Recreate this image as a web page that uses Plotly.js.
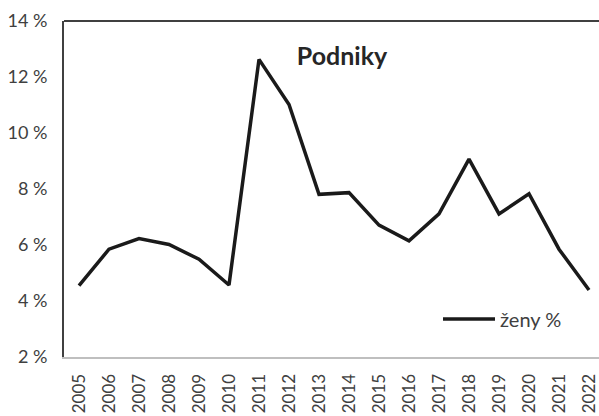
<!DOCTYPE html>
<html>
<head>
<meta charset="utf-8">
<script src="https://cdn.plot.ly/plotly-3.0.1.min.js"></script>
<style>html,body{margin:0;padding:0;background:#fff;overflow:hidden}</style>
</head>
<body>
<div id="chart" style="width:599px;height:416px"></div>
<script>
const years = ['2005','2006','2007','2008','2009','2010','2011','2012','2013','2014','2015','2016','2017','2018','2019','2020','2021','2022'];
const zeny = [4.55, 5.85, 6.23, 6.02, 5.49, 4.57, 12.63, 11.02, 7.81, 7.87, 6.71, 6.15, 7.11, 9.07, 7.11, 7.83, 5.85, 4.39];
const yTickVals = [2, 4, 6, 8, 10, 12, 14];
const yTickText = ['2 %', '4 %', '6 %', '8 %', '10 %', '12 %', '14 %'];
const seriesName = 'ženy %';
const chartTitle = 'Podniky';

const fontFam = 'Lato, "Open Sans", sans-serif';
const data = [{
  x: years, y: zeny, type: 'scatter', mode: 'lines', name: seriesName,
  line: {color: '#1a1a1a', width: 3.5}
}];
const layout = {
  width: 599, height: 416,
  margin: {l: 64, r: 0, t: 21, b: 59, pad: 0},
  paper_bgcolor: '#fff', plot_bgcolor: '#fff',
  font: {family: fontFam, size: 17, color: '#404040'},
  title: {text: '<b>' + chartTitle + '</b>', x: 342/599, y: 1 - 56/416, xref: 'container', yref: 'container',
    xanchor: 'center', yanchor: 'middle', font: {family: fontFam, size: 25, color: '#262626'}},
  showlegend: true,
  legend: {x: (438-64)/535, y: (357-319)/336, xanchor: 'left', yanchor: 'middle', bgcolor: 'rgba(0,0,0,0)',
    itemwidth: 52, font: {family: fontFam, size: 20, color: '#404040'}},
  xaxis: {type: 'category', range: [-0.5, -0.5 + 535/30], showgrid: false, zeroline: false,
    showline: true, linecolor: '#bfbfbf', linewidth: 2, ticks: '', tickangle: -90, ticklabelstandoff: 8,
    tickfont: {family: fontFam, size: 17, color: '#404040'}, fixedrange: true},
  yaxis: {range: [2, 14], tickvals: yTickVals, ticktext: yTickText, showgrid: false, zeroline: false,
    showline: true, linecolor: '#404040', linewidth: 2, ticks: '', ticklabelstandoff: 11,
    tickfont: {family: fontFam, size: 18, color: '#404040'}, fixedrange: true},
  shapes: [{type: 'line', xref: 'paper', yref: 'paper', x0: 0, x1: 1, y0: 1, y1: 1,
    line: {color: '#404040', width: 2}}]
};
Plotly.newPlot('chart', data, layout, {displayModeBar: false, staticPlot: true});
</script>
</body>
</html>
